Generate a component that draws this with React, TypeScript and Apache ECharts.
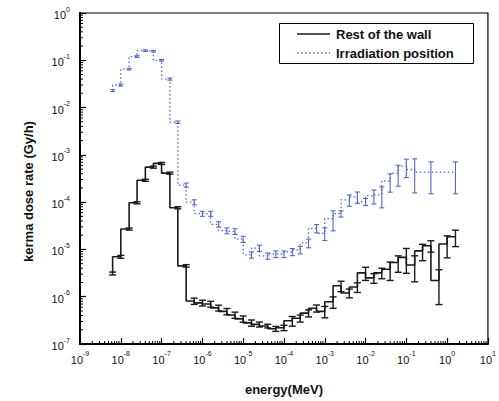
import { useEffect, useRef } from "react";
import * as echarts from "echarts";

// Upper edges of the energy bins (MeV), five bins per decade
const energies = [
  6.3e-9, 1e-8, 1.6e-8, 2.5e-8, 4e-8, 6.3e-8, 1e-7, 1.6e-7, 2.5e-7, 4e-7,
  6.3e-7, 1e-6, 1.6e-6, 2.5e-6, 4e-6, 6.3e-6, 1e-5, 1.6e-5, 2.5e-5, 4e-5,
  6.3e-5, 1e-4, 1.6e-4, 2.5e-4, 4e-4, 6.3e-4, 1e-3, 1.6e-3, 2.5e-3, 4e-3,
  6.3e-3, 1e-2, 1.6e-2, 2.5e-2, 4e-2, 6.3e-2, 0.1, 0.16, 0.25, 0.4,
  0.63, 1.0, 1.6,
];

// Kerma dose rate (Gy/h) in the rest of the wall
const wallDose = [
  3.1e-6, 7.0e-6, 2.7e-5, 9.7e-5, 2.9e-4, 5.5e-4, 6.6e-4, 4.1e-4, 7.6e-5, 4.5e-6,
  8.1e-7, 7.4e-7, 7.0e-7, 5.8e-7, 4.9e-7, 4.1e-7, 3.4e-7, 2.8e-7, 2.6e-7, 2.4e-7,
  2.1e-7, 2.2e-7, 3.1e-7, 3.5e-7, 4.5e-7, 5.7e-7, 4.9e-7, 7.8e-7, 1.7e-6, 1.2e-6,
  1.6e-6, 3.2e-6, 2.5e-6, 3.2e-6, 3.8e-6, 5.3e-6, 6.8e-6, 4.7e-6, 9.3e-6, 1.2e-5,
  2.2e-6, 1.3e-5, 1.85e-5,
];
// Relative statistical error of each wall bin
const wallRelErr = [
  0.07, 0.07, 0.05, 0.05, 0.05, 0.05, 0.05, 0.05, 0.05, 0.06,
  0.15, 0.14, 0.14, 0.14, 0.15, 0.15, 0.15, 0.15, 0.12, 0.09,
  0.12, 0.13, 0.23, 0.17, 0.17, 0.17, 0.27, 0.27, 0.25, 0.21,
  0.23, 0.31, 0.23, 0.25, 0.42, 0.38, 0.54, 0.56, 0.38, 0.27,
  0.69, 0.49, 0.38,
];

// Kerma dose rate (Gy/h) at the irradiation position (null = empty bin)
const irrDose = [
  2.3e-2, 3.0e-2, 6.5e-2, 0.12, 0.16, 0.155, 0.1, 4.0e-2, 4.9e-3, 2.3e-4,
  1.0e-4, 5.7e-5, 5.7e-5, 3.4e-5, 2.5e-5, 2.4e-5, 1.65e-5, 7.7e-6, 1.07e-5, 7.3e-6,
  8.0e-6, 8.0e-6, 8.9e-6, 9.8e-6, 1.37e-5, 2.8e-5, 2.2e-5, 4.5e-5, 5.7e-5, 1.12e-4,
  1.29e-4, 1.02e-4, 1.36e-4, 1.43e-4, 2.8e-4, 4.1e-4, 5.7e-4, 4.9e-4, null, 4.3e-4,
  null, null, 4.3e-4,
];
const irrRelErr = [
  0.05, 0.05, 0.04, 0.04, 0.04, 0.04, 0.04, 0.05, 0.06, 0.1,
  0.12, 0.12, 0.12, 0.13, 0.14, 0.14, 0.15, 0.15, 0.15, 0.15,
  0.16, 0.16, 0.17, 0.18, 0.21, 0.2, 0.3, 0.45, 0.15, 0.27,
  0.27, 0.17, 0.33, 0.47, 0.42, 0.47, 0.42, 0.68, null, 0.65,
  null, null, 0.65,
];

// Axis furniture: decade exponents and the minor-tick multipliers between them
const xDecades = [-9, -8, -7, -6, -5, -4, -3, -2, -1, 0];
const yDecades = [-7, -6, -5, -4, -3, -2, -1];
const minorSteps = [2, 3, 4, 5, 6, 7, 8, 9];

const SERIES_WALL = "Rest of the wall";
const SERIES_IRR = "Irradiation position";
const FONT = "'Liberation Sans', Arial, Helvetica, sans-serif";
const WALL_COLOR = "#1a1a1a";
const IRR_COLOR = "#5565c6";
const IRR_DASH = [1.5, 2.5];

type Pt = [number, number];

function points(values: (number | null)[]): Pt[] {
  const out: Pt[] = [];
  values.forEach((v, i) => {
    if (v != null) out.push([energies[i], v]);
  });
  return out;
}

function errorBars(values: (number | null)[], rel: (number | null)[]) {
  const out: [number, number, number][] = [];
  values.forEach((v, i) => {
    const r = rel[i];
    if (v != null && r != null) out.push([energies[i], v * (1 - r), v * (1 + r)]);
  });
  return out;
}

function errorSeries(name: string, data: [number, number, number][], color: string, cap: number, width: number) {
  return {
    name,
    type: "custom",
    silent: true,
    z: 3,
    data,
    encode: { x: 0, y: [1, 2] },
    renderItem: (_params: any, api: any) => {
      const x = api.value(0);
      const lo = api.coord([x, api.value(1)]);
      const hi = api.coord([x, api.value(2)]);
      const style = { stroke: color, lineWidth: width, fill: "none" };
      return {
        type: "group",
        children: [
          { type: "line", shape: { x1: lo[0], y1: lo[1], x2: hi[0], y2: hi[1] }, style },
          { type: "line", shape: { x1: lo[0] - cap, y1: lo[1], x2: lo[0] + cap, y2: lo[1] }, style },
          { type: "line", shape: { x1: hi[0] - cap, y1: hi[1], x2: hi[0] + cap, y2: hi[1] }, style },
        ],
      };
    },
  };
}

function minorTickSeries(axis: "x" | "y") {
  const decades = axis === "x" ? xDecades : yDecades;
  const data: Pt[] = [];
  decades.forEach((d) =>
    minorSteps.forEach((m) => {
      const v = m * Math.pow(10, d);
      data.push(axis === "x" ? [v, 1e-7] : [1e-9, v]);
    })
  );
  return {
    type: "custom",
    silent: true,
    z: 5,
    data,
    encode: { x: 0, y: 1 },
    renderItem: (_params: any, api: any) => {
      const p = api.coord([api.value(0), api.value(1)]);
      const shape =
        axis === "x"
          ? { x1: p[0], y1: p[1], x2: p[0], y2: p[1] - 3 }
          : { x1: p[0], y1: p[1], x2: p[0] + 3, y2: p[1] };
      return { type: "line", shape, style: { stroke: "#000", lineWidth: 1 } };
    },
  };
}

const powerLabel = (v: number) => `{b|10}{s|${Math.round(Math.log10(v))}}`;
const labelRich = {
  b: { fontSize: 11, fontFamily: FONT, color: "#111", padding: [4, 0, 0, 0] },
  s: { fontSize: 7, fontFamily: FONT, color: "#111", verticalAlign: "top" },
};

const legendFont = { fontFamily: FONT, fontSize: 13, fontWeight: "bold", fill: "#111" };

// Boxed legend in the upper right of the plot
const legendGraphic = [
  {
    type: "rect",
    z: 10,
    shape: { x: 279.5, y: 23.5, width: 194, height: 40 },
    style: { fill: "#fff", stroke: "#000", lineWidth: 1 },
  },
  {
    type: "line",
    z: 11,
    shape: { x1: 297, y1: 34, x2: 330, y2: 34 },
    style: { stroke: WALL_COLOR, lineWidth: 1.6 },
  },
  {
    type: "text",
    z: 11,
    x: 336,
    y: 34,
    style: { ...legendFont, text: SERIES_WALL, verticalAlign: "middle" },
  },
  {
    type: "line",
    z: 11,
    shape: { x1: 297, y1: 53, x2: 330, y2: 53 },
    style: { stroke: IRR_COLOR, lineWidth: 1.3, lineDash: IRR_DASH },
  },
  {
    type: "text",
    z: 11,
    x: 336,
    y: 53,
    style: { ...legendFont, text: SERIES_IRR, verticalAlign: "middle" },
  },
];

const option = {
  animation: false,
  backgroundColor: "#fff",
  grid: {
    left: 80,
    right: 7,
    top: 13,
    bottom: 51,
    show: true,
    borderColor: "#000",
    borderWidth: 1.2,
  },
  graphic: legendGraphic,
  xAxis: {
    type: "log",
    logBase: 10,
    min: 1e-9,
    max: 10,
    splitNumber: 10,
    name: "energy(MeV)",
    nameLocation: "middle",
    nameGap: 39,
    nameTextStyle: { fontFamily: FONT, fontSize: 13, fontWeight: "bold", color: "#111" },
    axisLine: { lineStyle: { color: "#000", width: 2 } },
    axisTick: { inside: true, length: 6, lineStyle: { color: "#000", width: 1.2 } },
    axisLabel: { formatter: powerLabel, rich: labelRich, margin: 6 },
    splitLine: { show: false },
  },
  yAxis: {
    type: "log",
    logBase: 10,
    min: 1e-7,
    max: 1,
    splitNumber: 7,
    name: "kerma dose rate (Gy/h)",
    nameLocation: "middle",
    nameGap: 45,
    nameTextStyle: {
      fontFamily: FONT,
      fontSize: 13,
      fontWeight: "bold",
      color: "#111",
      padding: [0, 26, 0, 0],
    },
    axisLine: { lineStyle: { color: "#000", width: 2 } },
    axisTick: { inside: true, length: 6, lineStyle: { color: "#000", width: 1.2 } },
    axisLabel: { formatter: powerLabel, rich: labelRich, margin: 10 },
    splitLine: { show: false },
  },
  series: [
    {
      name: SERIES_WALL,
      type: "line",
      step: "start",
      symbol: "none",
      data: points(wallDose),
      lineStyle: { color: WALL_COLOR, width: 1.6 },
      itemStyle: { color: WALL_COLOR },
      z: 4,
    },
    {
      name: SERIES_IRR,
      type: "line",
      step: "start",
      symbol: "none",
      data: points(irrDose),
      lineStyle: { color: IRR_COLOR, width: 1.3, type: IRR_DASH },
      itemStyle: { color: IRR_COLOR },
      z: 4,
    },
    errorSeries("wall error", errorBars(wallDose, wallRelErr), WALL_COLOR, 3.5, 1.4),
    errorSeries("irradiation error", errorBars(irrDose, irrRelErr), IRR_COLOR, 2.5, 1.1),
    minorTickSeries("x"),
    minorTickSeries("y"),
  ],
};

export default function App() {
  const ref = useRef<HTMLDivElement>(null);
  useEffect(() => {
    if (!ref.current) return;
    const chart = echarts.init(ref.current, undefined, { renderer: "svg" });
    chart.setOption(option as any);
    return () => chart.dispose();
  }, []);
  return (
    <div
      ref={ref}
      style={{ position: "fixed", left: 0, top: 0, width: 499, height: 401, background: "#fff" }}
    />
  );
}
